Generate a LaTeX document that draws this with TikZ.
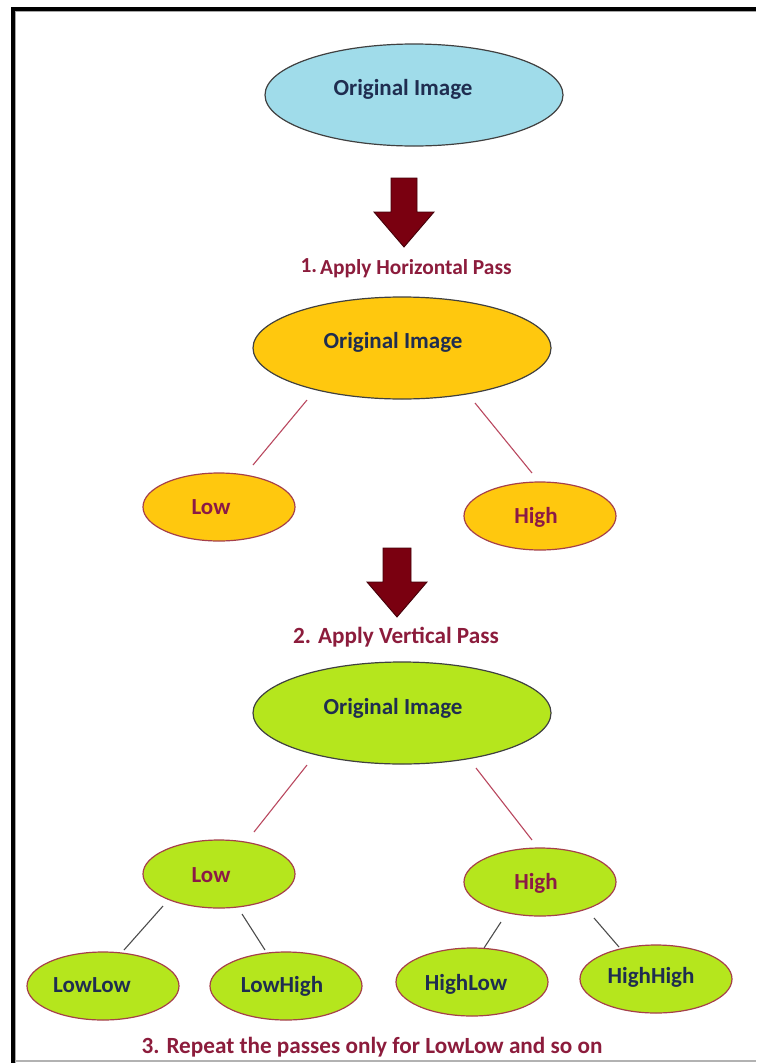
\documentclass[tikz,border=0pt]{standalone}
\usepackage{fontspec}
\setmainfont{Carlito}
\usetikzlibrary{shapes.geometric}
\definecolor{blueF}{RGB}{160,220,234}
\definecolor{orangeF}{RGB}{255,200,14}
\definecolor{greenF}{RGB}{181,230,29}
\definecolor{navyT}{RGB}{31,45,80}
\definecolor{maroonT}{RGB}{139,26,70}
\definecolor{stepT}{RGB}{140,28,60}
\definecolor{redLine}{RGB}{185,72,95}
\definecolor{smallEdge}{RGB}{165,64,74}
\definecolor{arrowF}{RGB}{122,0,16}
\tikzset{
  bigell/.style={ellipse, draw=black!75, line width=1.2pt, minimum width=298pt, minimum height=102pt, inner sep=0pt},
  smallell/.style={ellipse, draw=smallEdge, line width=1.2pt, minimum width=152pt, minimum height=68pt, inner sep=0pt},
  txt/.style={font=\bfseries\fontsize{23}{26}\selectfont, inner sep=0pt},
  steptxt/.style={font=\bfseries\fontsize{23.2}{26}\selectfont, text=stepT, inner sep=0pt},
  redcon/.style={draw=redLine, line width=1.1pt},
  graycon/.style={draw=black!70, line width=1.1pt},
  blockarrow/.style={draw=arrowF!55!black, fill=arrowF, line width=0.9pt, line join=miter}
}
\begin{document}
\begin{tikzpicture}[x=1pt,y=-1pt]
\useasboundingbox (0,0) rectangle (756,1063);
% frame
\draw[line width=4pt] (13,1063) -- (13,9) -- (756,9);
\draw[black!35, line width=1pt] (15.5,1063) -- (15.5,11.5) -- (756,11.5);
\draw[black!30, line width=1.2pt] (15,1061) -- (756,1061);

% level 0
\node[bigell, fill=blueF, label={[txt, text=navyT, shift={(-11,-6)}]center:Original Image}] (o1) at (414,95) {};
\coordinate (a1) at (404,178);
\draw[blockarrow] (a1) ++(-13,0) -- ++(26,0) -- ++(0,34) -- ++(17,0) -- ++(-30,35) -- ++(-30,-35) -- ++(17,0) -- cycle;
\node[steptxt, font=\bfseries\fontsize{21.4}{25}\selectfont] (s1) at (406,268) {\raisebox{2pt}{1.}\hspace{3pt}Apply Horizontal Pass};

% level 1
\node[bigell, fill=orangeF, label={[txt, text=navyT, shift={(-9,-6)}]center:Original Image}] (o2) at (402,348) {};
\node[smallell, fill=orangeF, label={[txt, text=maroonT, shift={(-8,0)}]center:Low}] (l1) at (219,507) {};
\node[smallell, fill=orangeF, label={[txt, text=maroonT, shift={(-4,1)}]center:High}] (h1) at (540,516) {};
\draw[redcon] ([shift={(-95,52)}]o2.center) -- ([shift={(34,-42)}]l1.center);
\draw[redcon] ([shift={(73,55)}]o2.center) -- ([shift={(-8,-43)}]h1.center);

\coordinate (a2) at (397,548);
\draw[blockarrow] (a2) ++(-14,0) -- ++(28,0) -- ++(0,34) -- ++(16,0) -- ++(-30,35) -- ++(-30,-35) -- ++(16,0) -- cycle;
\node[steptxt] (s2) at (396,637) {2. Apply Vertical Pass};

% level 2
\node[bigell, fill=greenF, label={[txt, text=navyT, shift={(-9,-5)}]center:Original Image}] (o3) at (402,713) {};
\node[smallell, fill=greenF, label={[txt, text=maroonT, shift={(-8,1)}]center:Low}] (l2) at (219,874) {};
\node[smallell, fill=greenF, label={[txt, text=maroonT, shift={(-4,1)}]center:High}] (h2) at (540,882) {};
\draw[redcon] ([shift={(-95,52)}]o3.center) -- ([shift={(35,-42)}]l2.center);
\draw[redcon] ([shift={(74,55)}]o3.center) -- ([shift={(-8,-42)}]h2.center);

% leaves
\node[smallell, fill=greenF, label={[txt, text=navyT, shift={(-11,-1)}]center:LowLow}] (ll) at (103,986) {};
\node[smallell, fill=greenF, label={[txt, text=navyT, shift={(-4,0)}]center:LowHigh}] (lh) at (286,986) {};
\node[smallell, fill=greenF, label={[txt, text=navyT, shift={(-6,2)}]center:HighLow}] (hl) at (472,982) {};
\node[smallell, fill=greenF, label={[txt, text=navyT, shift={(-5,-2)}]center:HighHigh}] (hh) at (656,979) {};
\draw[graycon] ([shift={(-56,32)}]l2.center) -- ([shift={(21,-36)}]ll.center);
\draw[graycon] ([shift={(23,40)}]l2.center) -- ([shift={(-21,-36)}]lh.center);
\draw[graycon] ([shift={(-39,40)}]h2.center) -- ([shift={(12,-34)}]hl.center);
\draw[graycon] ([shift={(54,36)}]h2.center) -- ([shift={(-37,-32)}]hh.center);

\node[steptxt] (s3) at (372,1047) {3. Repeat the passes only for LowLow and so on};
\end{tikzpicture}
\end{document}
